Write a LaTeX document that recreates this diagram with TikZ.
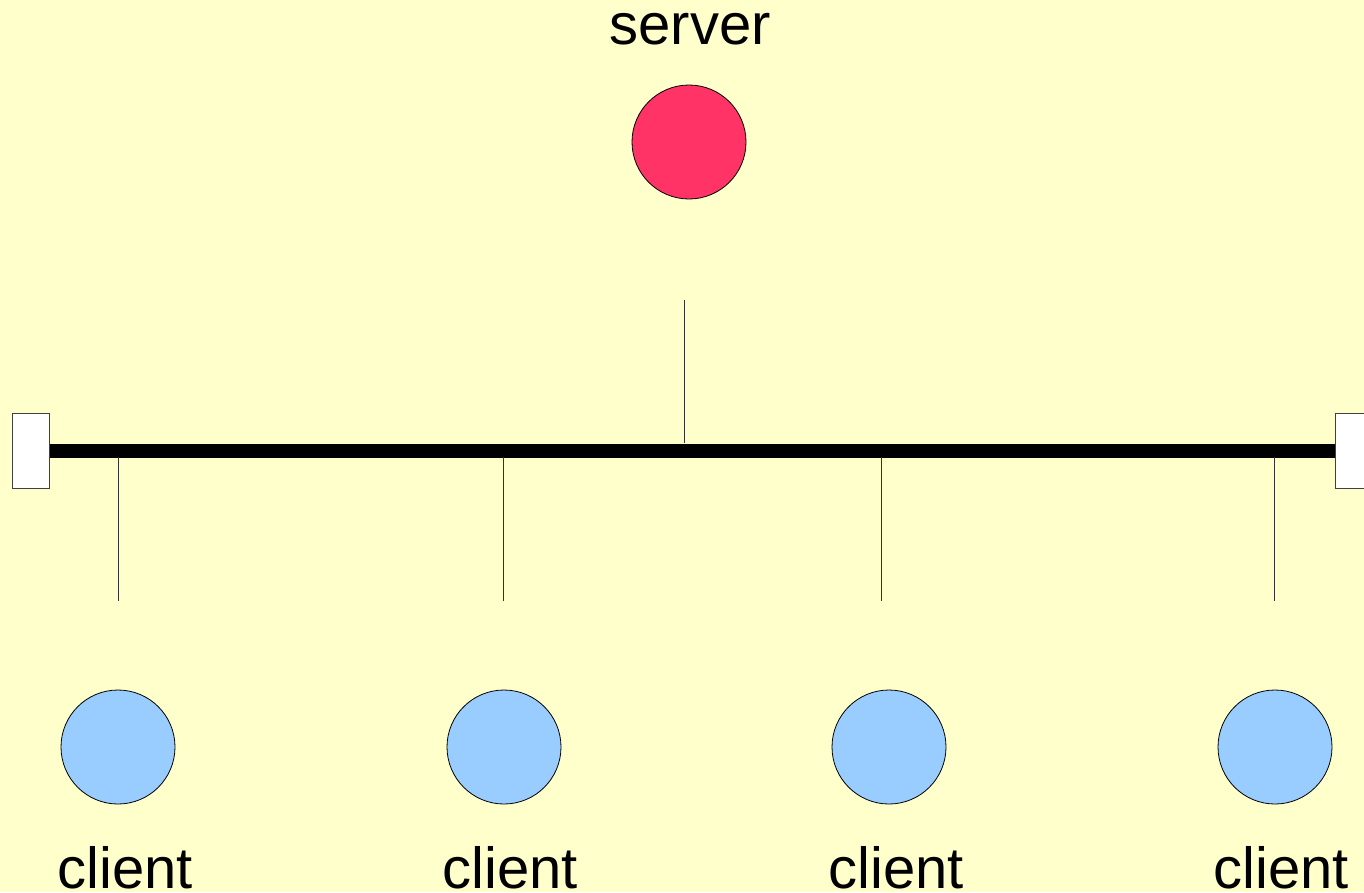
\documentclass[tikz,border=0pt]{standalone}
\usepackage{fontspec}
\setmainfont{Liberation Sans}
\begin{document}
\begin{tikzpicture}[x=1pt,y=-1pt,
  host/.style={circle,draw=black,line width=0.8pt,minimum size=114pt,inner sep=0pt},
  term/.style={rectangle,draw=black!75,fill=white,line width=1pt,minimum width=37pt,minimum height=75pt,inner sep=0pt},
  stub/.style={draw=black!80,line width=0.9pt},
  lbl/.style={anchor=base,inner sep=0pt,font=\fontsize{58}{64}\selectfont}]
\fill[fill={rgb,255:red,255;green,255;blue,204}] (0,0) rectangle (1364,892);
\useasboundingbox (0,0) rectangle (1364,892);
\definecolor{srv}{RGB}{255,51,102}
\definecolor{cli}{RGB}{153,204,255}
% terminators and bus
\node[term] (lt) at (30.5,450.5) {};
\node[term] (rt) at (1353.5,450.5) {};
\draw[line width=14pt] (lt.east) -- (rt.west);
% server
\node[lbl] (stext) at (690,44) {server};
\node[host,fill=srv] (srv) at (689,142) {};
\coordinate (ss) at (684,300);
\coordinate (sb) at (684,443);
\draw[stub] (ss) -- (sb);
% clients
\foreach \i/\sx/\cx/\tx in {1/118/118/125,2/503/504/510,3/881/889/896,4/1274/1275/1281}{
  \coordinate (ct\i) at (\sx,457);
  \coordinate (cb\i) at (\sx,601);
  \draw[stub] (ct\i) -- (cb\i);
  \node[host,fill=cli] (c\i) at (\cx,747) {};
  \node[lbl] (ctext\i) at (\tx,888) {client};
}
\end{tikzpicture}
\end{document}
